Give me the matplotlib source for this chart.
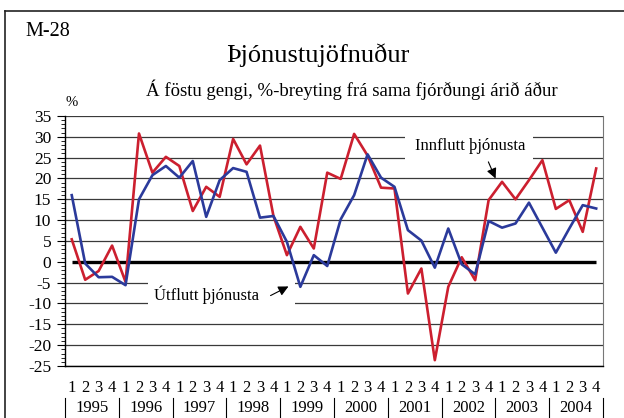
import matplotlib.pyplot as plt
from matplotlib.lines import Line2D
from matplotlib.patches import Rectangle

plt.rcParams['font.family'] = ['Liberation Serif', 'DejaVu Serif']
plt.rcParams['axes.unicode_minus'] = False

years = ['1995', '1996', '1997', '1998', '1999', '2000', '2001', '2002', '2003', '2004']
quarters = ['1', '2', '3', '4']

# innflutt (red) and útflutt (blue), % change from same quarter previous year
innflutt = [5.4, -4.3, -2.2, 3.9, -4.8, 30.8, 21.4, 25.2, 23.0, 12.2, 18.0, 15.6,
            29.5, 23.4, 27.9, 11.0, 1.6, 8.4, 3.2, 21.4, 19.9, 30.7, 25.5, 17.8,
            17.6, -7.6, -1.6, -23.6, -6.0, 1.1, -4.4, 14.8, 19.2, 15.0, 19.6, 24.4,
            12.7, 14.8, 7.2, 22.4]
utflutt = [16.0, -0.4, -3.7, -3.6, -5.6, 15.0, 20.8, 23.0, 20.2, 24.2, 10.8, 19.6,
           22.5, 21.6, 10.6, 11.0, 4.8, -6.0, 1.6, -1.0, 10.2, 16.0, 25.8, 20.2,
           18.0, 7.6, 5.1, -1.4, 8.0, -0.6, -3.0, 9.8, 8.2, 9.2, 14.2, 8.2,
           2.2, 8.0, 13.6, 12.8]

n = len(innflutt)
x = list(range(n))

fig = plt.figure(figsize=(6.24, 4.18), dpi=100)
ax = fig.add_axes([0.1042, 0.1244, 0.862, 0.5981])

# outer frame of the figure (left and top only visible)
fig.add_artist(Line2D([5 / 624, 5 / 624], [0, 1 - 11 / 418], color='#222222', lw=1.2))
fig.add_artist(Line2D([5 / 624, 1], [1 - 11 / 418, 1 - 11 / 418], color='#222222', lw=1.2))

for v in range(-25, 40, 5):
    if v != 0:
        ax.axhline(v, color='#3a3a3a', lw=0.9, zorder=0.5)
ax.hlines(0, x[0], x[-1], color='black', lw=2.4, zorder=2)

# white patches behind the labels
ax.add_patch(Rectangle((24.8, 22.8), 9.5, 9.8, fc='white', ec='none', zorder=1))
ax.add_patch(Rectangle((5.65, -11.5), 10.95, 7.5, fc='white', ec='none', zorder=1))

ax.plot(x, innflutt, color='#cc1f2f', lw=1.9, zorder=3)
ax.plot(x, utflutt, color='#2b3a9b', lw=1.9, zorder=3)

ax.text(29.6, 27.9, 'Innflutt þjónusta', ha='center', va='center', fontsize=12, zorder=4)
ax.annotate('', xy=(31.6, 19.4), xytext=(30.9, 24.6),
            arrowprops=dict(arrowstyle='-|>', color='black', lw=0.8, mutation_scale=15), zorder=4)
ax.text(10.0, -8.0, 'Útflutt þjónusta', ha='center', va='center', fontsize=12, zorder=4)
ax.annotate('', xy=(16.3, -5.6), xytext=(14.6, -8.4),
            arrowprops=dict(arrowstyle='-|>', color='black', lw=0.8, mutation_scale=15), zorder=4)

ax.set_xlim(-0.5, n - 0.5)
ax.set_ylim(-25, 35)
ax.set_yticks(range(-25, 40, 5))
ax.set_yticks(range(-25, 36), minor=True)
ax.tick_params(axis='y', which='major', length=6, width=0.8, labelsize=12.5, pad=4)
ax.tick_params(axis='y', which='minor', length=3, width=0.6)
ax.set_xticks(x)
ax.set_xticklabels([quarters[i % 4] for i in x], fontsize=12)
ax.tick_params(axis='x', length=0, pad=10)

ax.spines['top'].set_visible(False)
ax.spines['right'].set_color('#777777')
ax.spines['left'].set_linewidth(1.0)
ax.spines['bottom'].set_linewidth(1.0)

xt = ax.get_xaxis_transform()
for k, yr in enumerate(years):
    ax.text(4 * k + 1.5, -0.168, yr, transform=xt, ha='center', va='center', fontsize=12)
for k in range(len(years) + 1):
    ax.add_line(Line2D([4 * k - 0.5, 4 * k - 0.5], [-0.128, -0.21], transform=xt,
                       color='black', lw=0.8, clip_on=False))

fig.text(25 / 624, 1 - 31 / 418, 'M-28', fontsize=14.5, ha='left', va='center')
fig.text(318 / 624, 1 - 55 / 418, 'Þjónustujöfnuður', fontsize=19, ha='center', va='center')
fig.text(352 / 624, 1 - 90 / 418, 'Á föstu gengi, %-breyting frá sama fjórðungi árið áður',
         fontsize=13.5, ha='center', va='center')
fig.text(72 / 624, 1 - 102 / 418, '%', fontsize=10.5, ha='center', va='center')

fig.savefig('out.png', dpi=100)
